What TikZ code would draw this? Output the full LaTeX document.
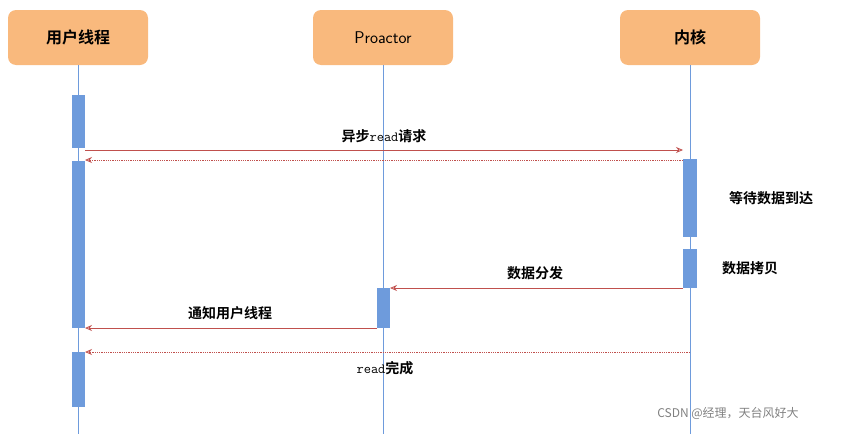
\documentclass[tikz,border=0pt]{standalone}
\usepackage{fontspec}
\newfontfamily\cjk{Noto Sans CJK SC}[BoldFont={Noto Sans CJK SC Bold}]
\usetikzlibrary{arrows.meta}
\definecolor{hdr}{HTML}{F9B97D}
\definecolor{bar}{HTML}{6E9BDC}
\definecolor{msg}{HTML}{C0504D}
\begin{document}
\begin{tikzpicture}[x=1pt,y=-1pt,
  head/.style={fill=hdr,draw=none,rounded corners=8pt,minimum width=140pt,minimum height=55pt,font=\cjk\bfseries\fontsize{16}{18}\selectfont},
  life/.style={draw=bar,line width=0.8pt},
  act/.style={fill=bar,draw=none},
  call/.style={draw=msg,line width=0.8pt,-{Stealth[length=7pt,width=6pt,open]}},
  ret/.style={call,densely dotted},
  lab/.style={font=\cjk\bfseries\fontsize{14}{16}\selectfont}]
\useasboundingbox (0,0) rectangle (845,434);
\node[head] (u) at (78,37.5) {用户线程};
\node[head,font=\sffamily\fontsize{17}{19}\selectfont] (p) at (383,37.5) {Proactor};
\node[head] (k) at (690,37.5) {内核};
\draw[life] (u.south) -- (78,434);
\draw[life] (p.south) -- (383,434);
\draw[life] (k.south) -- (690,434);
\fill[act] (72,95) rectangle (85,148);
\fill[act] (72,161) rectangle (85,328);
\fill[act] (72,352) rectangle (85,407);
\fill[act] (683,159) rectangle (697,237);
\fill[act] (683,249) rectangle (697,288);
\fill[act] (377,288) rectangle (390,328);
\coordinate (a1) at (85,150); \coordinate (b1) at (683,150);
\draw[call] (a1) -- (b1) node[midway,above=3pt,lab] {异步{\ttfamily\mdseries read}请求};
\coordinate (a2) at (683,160); \coordinate (b2) at (85,160);
\draw[ret] (a2) -- (b2);
\coordinate (a3) at (683,288); \coordinate (b3) at (390,288);
\draw[call] (a3) -- (b3);
\node[lab] (l3) at (535,273) {数据分发};
\coordinate (a4) at (377,328); \coordinate (b4) at (85,328);
\draw[call] (a4) -- (b4);
\node[lab] (l4) at (230,313) {通知用户线程};
\coordinate (a5) at (690,352); \coordinate (b5) at (85,352);
\draw[ret] (a5) -- (b5);
\node[lab] (l5) at (385,368) {{\ttfamily\mdseries read}完成};
\node[lab] (w1) at (771,198) {等待数据到达};
\node[lab] (w2) at (750,268) {数据拷贝};
\node[font=\cjk\fontsize{12}{14}\selectfont,text=gray] (wm) at (728,413) {CSDN @经理，天台风好大};
\end{tikzpicture}
\end{document}
